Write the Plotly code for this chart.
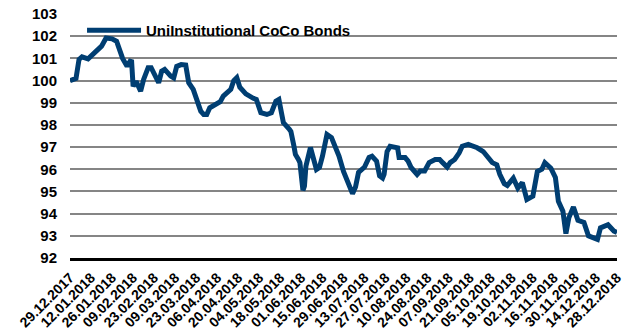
import pandas as pd
import plotly.graph_objects as go

series_name = "UniInstitutional CoCo Bonds"
start_date = "2017-12-29"
# days since 29.12.2017 for each observation
days_since_start = [0, 4, 6, 8, 12, 15, 18, 21, 24, 28, 31, 33, 35, 38, 40, 41, 42, 44, 47, 49,
                    52, 54, 58, 59, 61, 63, 67, 69, 71, 74, 77, 79, 82, 84, 87, 89, 91, 93, 97, 100,
                    102, 104, 107, 109, 111, 113, 117, 122, 124, 127, 131, 134, 137, 139, 141, 142, 146, 147, 149, 150,
                    152, 153, 155, 156, 157, 160, 164, 166, 168, 171, 174, 177, 179, 182, 186, 188, 190, 192, 196, 199,
                    201, 204, 206, 208, 209, 211, 213, 216, 218, 219, 223, 225, 227, 231, 233, 236, 239, 243, 246, 248,
                    251, 253, 256, 259, 261, 265, 268, 271, 275, 278, 281, 284, 286, 289, 291, 295, 298, 301, 304, 308,
                    311, 314, 316, 320, 323, 325, 328, 330, 332, 335, 338, 342, 345, 348, 351, 353, 356, 358, 362, 364]
values = [100.0, 100.1, 100.95, 101.07, 100.98, 101.17, 101.4, 101.55, 101.92, 101.88, 101.77, 101.32, 101.0, 100.64, 100.87, 100.85, 99.74, 99.97, 99.52, 100.05,
          100.58, 100.58, 99.97, 99.9, 100.42, 100.5, 100.2, 100.12, 100.64, 100.72, 100.7, 99.9, 99.6, 99.22, 98.62, 98.47, 98.47, 98.77, 98.92, 99.05,
          99.3, 99.45, 99.6, 100.0, 100.13, 99.7, 99.4, 99.2, 99.15, 98.55, 98.47, 98.55, 99.07, 99.15, 98.55, 98.1, 97.8, 97.7, 97.05, 96.67,
          96.44, 96.3, 95.05, 95.24, 96.14, 96.98, 95.99, 96.08, 96.59, 97.57, 97.43, 96.89, 96.6, 95.9, 95.2, 94.9, 95.2, 95.86, 96.1, 96.53,
          96.59, 96.37, 95.7, 95.6, 95.77, 96.8, 97.04, 96.98, 96.97, 96.53, 96.53, 96.37, 96.08, 95.77, 95.92, 95.92, 96.3, 96.44, 96.44, 96.3,
          96.1, 96.3, 96.44, 96.74, 97.04, 97.12, 97.04, 96.97, 96.8, 96.5, 96.3, 96.2, 95.77, 95.35, 95.27, 95.6, 95.15, 95.4, 94.64, 94.79,
          95.9, 96.0, 96.3, 96.05, 95.63, 94.56, 94.11, 93.1, 93.82, 94.3, 93.7, 93.6, 93.0, 92.92, 92.84, 93.36, 93.44, 93.5, 93.21, 93.15]
tick_dates = pd.date_range("2017-12-29", "2018-12-28", freq="14D")
y_ticks = list(range(92, 104))

dates = pd.Timestamp(start_date) + pd.to_timedelta(days_since_start, unit="D")

fig = go.Figure()
fig.add_trace(go.Scatter(x=dates, y=values, mode="lines", name=series_name,
                         line=dict(color="#003E72", width=5)))

fig.update_layout(
    width=632, height=333,
    margin=dict(l=70, r=15, t=14, b=75, autoexpand=False),
    paper_bgcolor="white", plot_bgcolor="white",
    font=dict(family="Liberation Sans, Arial, sans-serif", color="black"),
    showlegend=True,
    legend=dict(x=0.022, y=1.0, xanchor="left", yanchor="top", bgcolor="rgba(0,0,0,0)",
                font=dict(size=15, weight="bold", color="black"), itemwidth=54,
                tracegroupgap=0),
)
fig.update_xaxes(
    range=[pd.Timestamp("2017-12-29"), pd.Timestamp("2018-12-28")],
    tickvals=tick_dates, ticktext=[d.strftime("%d.%m.%Y") for d in tick_dates],
    tickangle=-45, tickfont=dict(size=14, weight="bold", color="black"),
    showgrid=False, showline=True, linecolor="black", linewidth=3,
    ticks="", ticklabelstandoff=3, automargin=False, zeroline=False,
)
fig.update_yaxes(
    range=[92, 103], tickvals=y_ticks,
    tickfont=dict(size=15, weight="bold", color="black"),
    showgrid=True, gridcolor="#858585", gridwidth=1.5,
    ticks="", ticklabelstandoff=12, automargin=False, zeroline=False,
)
fig.write_html("out.html")
